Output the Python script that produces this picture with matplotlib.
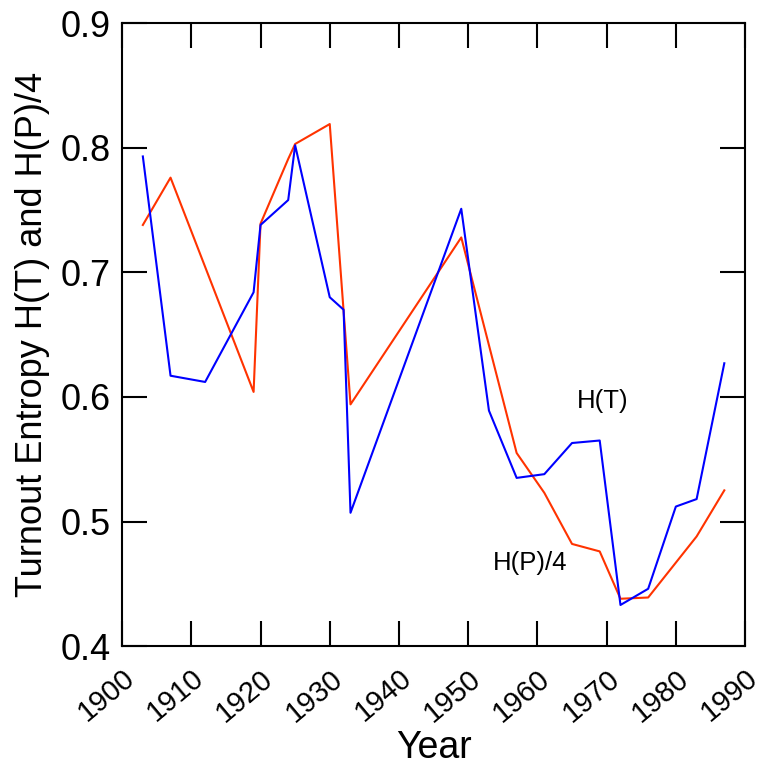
import matplotlib
matplotlib.use("Agg")
import matplotlib.pyplot as plt

plt.rcParams['font.family'] = ['Liberation Sans', 'DejaVu Sans']

# H(T) series
years_t = [1903, 1907, 1912, 1919, 1920, 1924, 1925, 1930, 1932, 1933, 1949,
           1953, 1957, 1961, 1965, 1969, 1972, 1976, 1980, 1983, 1987]
h_t = [0.793, 0.617, 0.612, 0.684, 0.738, 0.758, 0.802, 0.680, 0.670, 0.507, 0.751,
       0.589, 0.535, 0.538, 0.563, 0.565, 0.433, 0.446, 0.512, 0.518, 0.627]

# H(P)/4 series
years_p = [1903, 1907, 1919, 1920, 1924, 1925, 1930, 1933, 1949,
           1957, 1961, 1965, 1969, 1972, 1976, 1983, 1987]
h_p = [0.738, 0.776, 0.604, 0.739, 0.791, 0.803, 0.819, 0.594, 0.728,
       0.555, 0.523, 0.482, 0.476, 0.438, 0.439, 0.488, 0.525]

xticks = [1900, 1910, 1920, 1930, 1940, 1950, 1960, 1970, 1980, 1990]
yticks = [0.4, 0.5, 0.6, 0.7, 0.8, 0.9]

fig = plt.figure(figsize=(7.63, 7.71), dpi=100)
ax = fig.add_axes([0.160, 0.162, 0.8165, 0.808])

ax.plot(years_p, h_p, color='#ff3300', lw=1.5)
ax.plot(years_t, h_t, color='#0000ff', lw=1.5)

ax.set_xlim(1900, 1990)
ax.set_ylim(0.4, 0.9)
ax.set_xticks(xticks)
ax.set_yticks(yticks)
ax.set_xticklabels([str(v) for v in xticks], rotation=40, ha='right',
                   rotation_mode='anchor', fontsize=21)
ax.set_yticklabels([f"{v:.1f}" for v in yticks], fontsize=26)
ax.tick_params(direction='in', length=18, width=1.5, top=True, right=True, pad=8)
ax.tick_params(axis='x', pad=13)
for s in ax.spines.values():
    s.set_linewidth(1.5)

ax.set_xlabel('Year', fontsize=27, labelpad=2)
ax.set_ylabel('Turnout Entropy H(T) and H(P)/4', fontsize=26, labelpad=8)

ax.text(1969.5, 0.597, 'H(T)', fontsize=18.5, ha='center', va='center')
ax.text(1959.0, 0.467, 'H(P)/4', fontsize=18.5, ha='center', va='center')

fig.savefig('out.png', dpi=100)
